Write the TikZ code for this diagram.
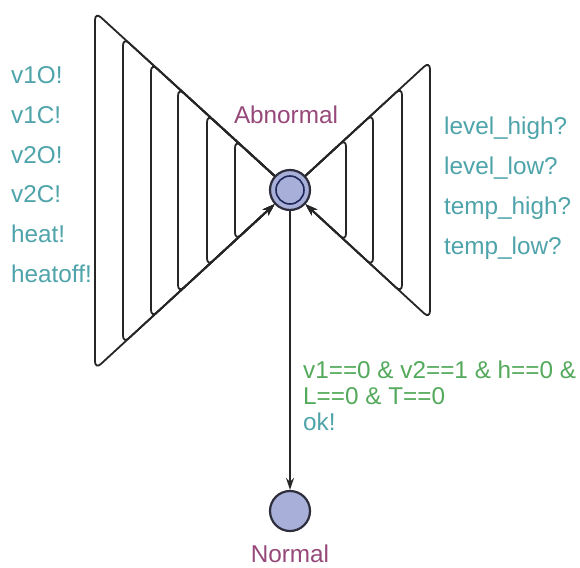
\documentclass[tikz,border=0pt]{standalone}
\usepackage{fontspec}
\setmainfont{Liberation Sans}
\usetikzlibrary{arrows.meta}
\definecolor{synccol}{RGB}{78,164,170}
\definecolor{guardcol}{RGB}{84,170,92}
\definecolor{namecol}{RGB}{150,72,122}
\definecolor{locfill}{RGB}{168,176,218}
\definecolor{locline}{RGB}{45,45,60}
\definecolor{innerline}{RGB}{30,40,90}
\tikzset{
  loc/.style={circle, draw=locline, line width=2.2pt, fill=locfill, minimum size=40pt, inner sep=0pt},
  inloc/.style={circle, draw=innerline, line width=1.6pt, minimum size=28pt, inner sep=0pt},
  edge/.style={draw=black!85, line width=1.8pt, rounded corners=8pt, -{Stealth[length=12pt,width=8pt]}},
  lbl/.style={font=\fontsize{24.3}{28}\selectfont, inner sep=0pt, anchor=west},
  synclbl/.style={lbl, text=synccol},
  guardlbl/.style={lbl, text=guardcol},
  namelbl/.style={font=\fontsize{24.3}{28}\selectfont, inner sep=0pt, text=namecol}
}
\begin{document}
\begin{tikzpicture}[x=1pt,y=-1pt]
\useasboundingbox (0,0) rectangle (580,567);
\fill[white] (0,0) rectangle (580,567);

\node[loc] (ab) at (290,190) {};
\node[inloc] (abin) at (290,190) {};
\node[loc] (nm) at (290,511) {};

\node[namelbl] (abname) at (286,115) {Abnormal};
\node[namelbl] (nmname) at (290,554) {Normal};

% left self-loops
\foreach \i/\x in {1/95,2/123,3/151,4/178,5/207,6/235}{
  \coordinate (lt\i) at (\x,{190-0.913*(290-\x)});
  \coordinate (lb\i) at (\x,{190+0.92*(290-\x)});
  \draw[edge] (ab) -- (lt\i) -- (lb\i) -- (ab);
}
% right self-loops
\foreach \i/\x in {1/430,2/402,3/373,4/346}{
  \coordinate (rt\i) at (\x,{190-0.92*(\x-290)});
  \coordinate (rb\i) at (\x,{190+0.92*(\x-290)});
  \draw[edge] (ab) -- (rt\i) -- (rb\i) -- (ab);
}
% edge to Normal
\draw[edge] (ab) -- (nm);

% labels left
\node[synclbl] (s1) at (11,75) {v1O!};
\node[synclbl] (s2) at (11,115) {v1C!};
\node[synclbl] (s3) at (11,155) {v2O!};
\node[synclbl] (s4) at (11,194) {v2C!};
\node[synclbl] (s5) at (11,234) {heat!};
\node[synclbl] (s6) at (11,274) {heatoff!};
% labels right
\node[synclbl] (r1) at (444,128) {level\_high?};
\node[synclbl] (r2) at (444,168) {level\_low?};
\node[synclbl] (r3) at (444,208) {temp\_high?};
\node[synclbl] (r4) at (444,248) {temp\_low?};
% guard and sync
\node[guardlbl] (g1) at (303,370) {v1==0 \& v2==1 \& h==0 \&};
\node[guardlbl] (g2) at (303,396) {L==0 \& T==0};
\node[synclbl] (ok) at (303,422) {ok!};
\end{tikzpicture}
\end{document}
